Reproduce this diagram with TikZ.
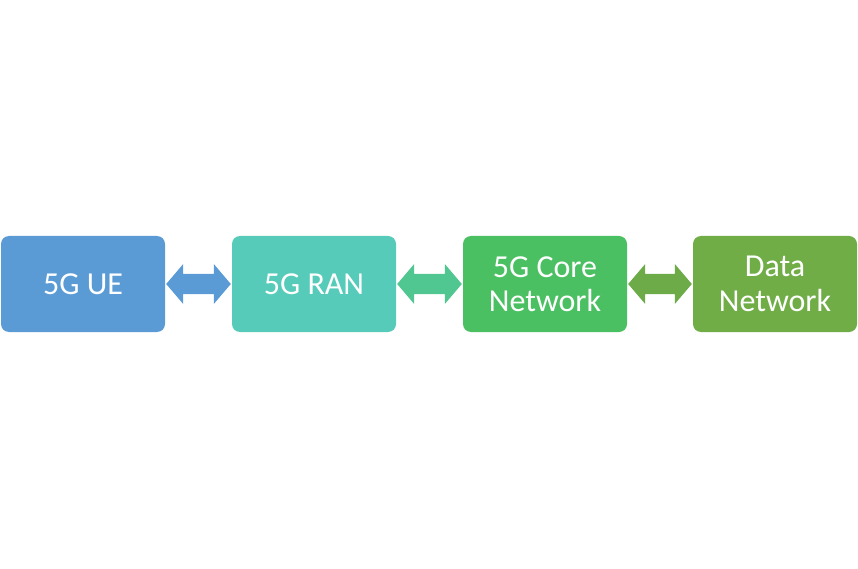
\documentclass[tikz,border=0pt]{standalone}
\usepackage{fontspec}
\setmainfont{Carlito}
\usetikzlibrary{calc}
\definecolor{cue}{HTML}{5B9BD5}
\definecolor{cran}{HTML}{56CBB9}
\definecolor{ccore}{HTML}{4BC063}
\definecolor{cdn}{HTML}{70AD47}
\definecolor{aran}{HTML}{50C690}
\definecolor{adn}{HTML}{6CAB48}
\tikzset{
  blockbox/.style={fill=#1, draw=none, rounded corners=8pt, minimum width=164pt, minimum height=96pt,
    text=white, font=\fontsize{32}{34.5}\selectfont, align=center, inner sep=0pt},
}
\newcommand{\dblarrow}[3]{%
  \fill[#3] ($(#1.east)+(1pt,0)$) -- ++(17pt,20pt) -- ++(0,-10pt)
    -- ($(#2.west)+(-18pt,10pt)$) -- ++(0,10pt) -- ($(#2.west)+(-1pt,0)$)
    -- ++(-17pt,-20pt) -- ++(0,10pt) -- ($(#1.east)+(18pt,-10pt)$) -- ++(0,-10pt) -- cycle;}
\begin{document}
\begin{tikzpicture}[x=1pt,y=1pt]
\useasboundingbox (0,0) rectangle (858,568);
\node[blockbox=cue] (ue) at (83,284) {5G UE};
\node[blockbox=cran] (ran) at (314,284) {5G RAN};
\node[blockbox=ccore] (core) at (545,284) {5G Core\\Network};
\node[blockbox=cdn] (dn) at (775,284) {Data\\Network};
\dblarrow{ue}{ran}{cue}
\dblarrow{ran}{core}{aran}
\dblarrow{core}{dn}{adn}
\end{tikzpicture}
\end{document}
